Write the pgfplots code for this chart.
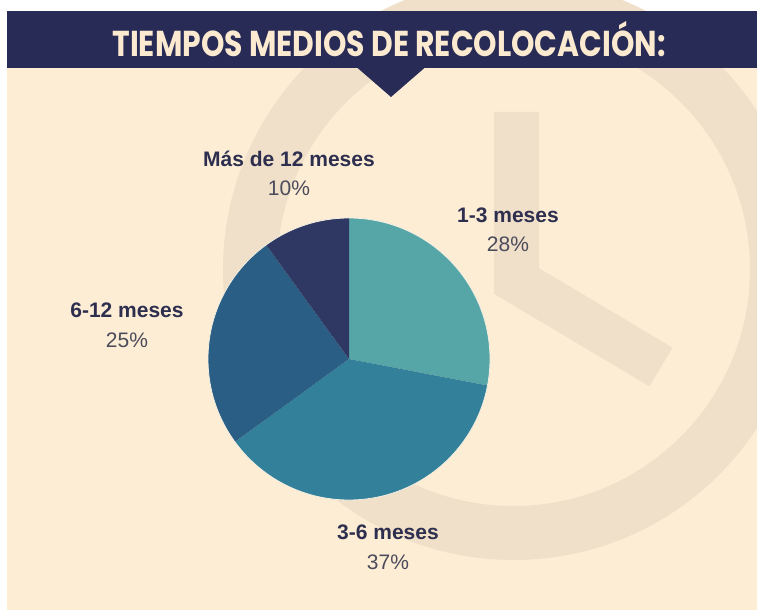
\documentclass[border=0pt]{standalone}
\usepackage{pgfplots}
\pgfplotsset{compat=1.18}
\usepackage{pgfplotstable}
\usepackage{graphicx}
\usepackage{fontspec}
\setmainfont{Liberation Sans}
\newfontfamily\titlefont{Poppins}

\definecolor{bg}{HTML}{FDEDD5}
\definecolor{ringcol}{HTML}{F0E0CA}
\definecolor{navy}{HTML}{272B55}
\definecolor{titlecol}{HTML}{FBE9D0}
\definecolor{cA}{HTML}{56A5A7}
\definecolor{cB}{HTML}{32809A}
\definecolor{cC}{HTML}{2A5E85}
\definecolor{cD}{HTML}{2F3862}
\definecolor{labcol}{HTML}{2E2F4F}
\definecolor{pctcol}{HTML}{4B4B5B}
\definecolor{pieedge}{HTML}{F3EEE2}

\newcommand\labfont{\fontsize{21}{25}\selectfont\bfseries}
\newcommand\pctfont{\fontsize{21}{25}\selectfont}

% slices clockwise from 12 o'clock; label positions in pixel coordinates (y up)
\pgfplotstableread[col sep=comma]{
label,value,color,lx,ly,py
1-3 meses,28,cA,508,387,358
3-6 meses,37,cB,388,70,40
6-12 meses,25,cC,127,292,262
Más de 12 meses,10,cD,289,443,414
}\piedata

\def\startang{90}

\begin{document}
\begin{tikzpicture}
\begin{axis}[
  width=757pt, height=610pt, scale only axis,
  xmin=0, xmax=757, ymin=0, ymax=610,
  hide axis, clip=true,
]
% page and background
\fill[white] (axis cs:0,0) rectangle (axis cs:757,610);
\fill[bg] (axis cs:7,0) rectangle (axis cs:757,599);
% faint clock
\draw[ringcol, line width=54pt] (axis cs:513.5,340.5) circle[radius=263.5pt];
\draw[ringcol, line width=45pt, line join=miter] (axis cs:516.5,498) -- (axis cs:516.5,329) -- (axis cs:661,243);
% banner
\fill[navy] (axis cs:7,542) rectangle (axis cs:757,599);
\fill[navy] (axis cs:357,542.5) -- (axis cs:425,542.5) -- (axis cs:391,513) -- cycle;
\node[anchor=base, text=titlecol, inner sep=0pt] at (axis cs:389,553)
  {\resizebox{553pt}{\height}{\titlefont\bfseries\fontsize{36}{40}\selectfont TIEMPOS MEDIOS DE RECOLOCACIÓN:}};
% pie
\pgfplotsforeachungrouped \i in {0,1,2,3}{%
  \pgfplotstablegetelem{\i}{value}\of\piedata \let\v=\pgfplotsretval
  \pgfplotstablegetelem{\i}{color}\of\piedata \let\col=\pgfplotsretval
  \pgfplotstablegetelem{\i}{label}\of\piedata \let\lab=\pgfplotsretval
  \pgfplotstablegetelem{\i}{lx}\of\piedata \let\lx=\pgfplotsretval
  \pgfplotstablegetelem{\i}{ly}\of\piedata \let\ly=\pgfplotsretval
  \pgfplotstablegetelem{\i}{py}\of\piedata \let\py=\pgfplotsretval
  \pgfmathsetmacro\endang{\startang-3.6*\v}
  \pgfmathsetmacro\sx{349+141*cos(\startang)}
  \pgfmathsetmacro\sy{251+141*sin(\startang)}
  \edef\temp{\noexpand\fill[fill=\col]
     (axis cs:349,251) -- (axis cs:\sx,\sy) arc[start angle=\startang, end angle=\endang, radius=141pt] -- cycle;
     \noexpand\node[anchor=base, text=labcol, font=\noexpand\labfont, inner sep=0pt] at (axis cs:\lx,\ly) {\lab};
     \noexpand\node[anchor=base, text=pctcol, font=\noexpand\pctfont, inner sep=0pt] at (axis cs:\lx,\py) {\v\noexpand\%};}
  \temp
  \global\let\startang=\endang
}
\draw[pieedge, line width=0.8pt] (axis cs:349,251) circle[radius=141pt];
\end{axis}
\pgfresetboundingbox
\path[use as bounding box] (current axis.south west) rectangle (current axis.north east);
\end{tikzpicture}
\end{document}
